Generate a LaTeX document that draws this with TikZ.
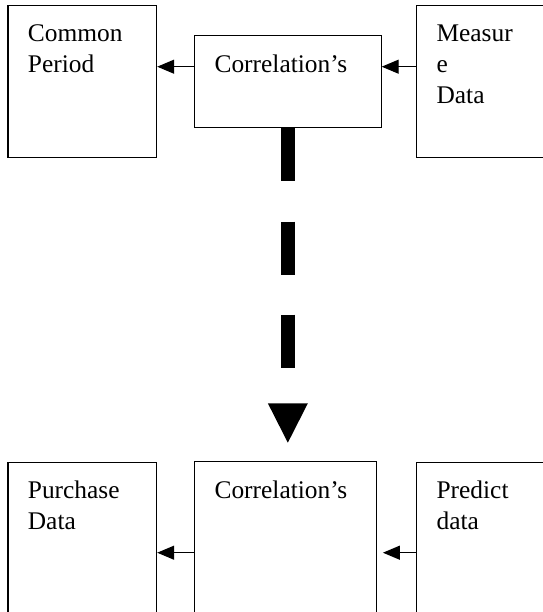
\documentclass[tikz,border=0pt]{standalone}
\usepackage{fontspec}
\setmainfont{Liberation Serif}
\usetikzlibrary{arrows.meta}
\tikzset{every path/.style={black,line width=1.2pt}, box/.style={draw, rectangle, inner sep=0pt, anchor=north west}}
\tikzset{txt/.style={inner sep=0pt, anchor=north west, align=left, font=\fontsize{25.4}{31.3}\selectfont}, arr/.style={-{Triangle[length=17pt,width=14pt]}}}
\tikzset{bigarr/.style={line width=13.3pt, dash pattern=on 53pt off 40pt, -{Triangle[length=39.4pt,width=40pt,line width=0pt]}}}

\begin{document}
\begin{tikzpicture}[x=1pt,y=-1pt]
  \useasboundingbox (0,0) rectangle (542,612);
  \node[box, minimum width=148.7pt, minimum height=152pt] (cp) at (  7.3,  4.7) {};
  \node[box, minimum width=186.5pt, minimum height=92.3pt] (ct) at (194.0, 35.0) {};
  \node[box, minimum width=149.0pt, minimum height=152pt] (md) at (416.0,  4.7) {};
  \node[box, minimum width=148.7pt, minimum height=182pt] (pd) at (  7.3,461.7) {};
  \node[box, minimum width=182.0pt, minimum height=184pt] (cb) at (194.0,460.7) {};
  \node[box, minimum width=149.0pt, minimum height=182pt] (pr) at (416.0,461.7) {};
  \node[txt] (cpt) at ([shift={(20,19.3)}]cp.north west) {Common\\Period};
  \node[txt] (ctt) at ([shift={(20,19.3)}]ct.north west) {Correlation's};
  \node[txt] (mdt) at ([shift={(20,19.3)}]md.north west) {Measur\\e\\Data};
  \node[txt] (pdt) at ([shift={(20,18.3)}]pd.north west) {Purchase\\Data};
  \node[txt] (cbt) at ([shift={(20,19.3)}]cb.north west) {Correlation's};
  \node[txt] (prt) at ([shift={(20,18.3)}]pr.north west) {Predict\\data};
  \coordinate (r1) at (0,66.7);
  \coordinate (r2) at (0,552.7);
  \draw[arr] (ct.west |- r1) -- (cp.east |- r1);
  \draw[arr] (md.west |- r1) -- (ct.east |- r1);
  \draw[arr] (cb.west |- r2) -- (pd.east |- r2);
  \draw[arr, shorten >=5.7pt] (pr.west |- r2) -- (cb.east |- r2);
  \draw[bigarr, shorten >=18pt] (ct.south) -- (ct.south |- cb.north);
\end{tikzpicture}
\end{document}
